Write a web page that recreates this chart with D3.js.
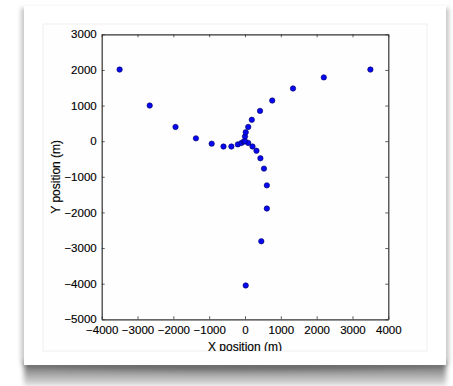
<!DOCTYPE html>
<html><head><meta charset="utf-8">
<script src="https://cdn.jsdelivr.net/npm/d3@7"></script>
<style>html,body{margin:0;padding:0;background:#fff;}svg{display:block;}</style>
</head><body>
<script>
// Data: station positions (m), three arms plus centre
const armWestX = [-3500, -2660, -1940, -1370, -930, -600, -380, -200, -100, -30];
const armWestY = [2010, 1000, 400, 80, -70, -150, -150, -90, -50, -10];
const armNEX = [0, 20, 90, 190, 420, 760, 1340, 2200, 3500];
const armNEY = [130, 250, 400, 600, 850, 1140, 1480, 1790, 2010];
const armSX = [90, 210, 320, 430, 530, 610, 610, 455, 20];
const armSY = [-50, -150, -270, -480, -770, -1240, -1890, -2810, -4050];
const centreX = [0];
const centreY = [0];
const xTicks = [-4000, -3000, -2000, -1000, 0, 1000, 2000, 3000, 4000];
const yTicks = [-5000, -4000, -3000, -2000, -1000, 0, 1000, 2000, 3000];

const W = 453, H = 386;
const svg = d3.select("body").append("svg").attr("width", W).attr("height", H);
const defs = svg.append("defs");

const blur = defs.append("filter").attr("id", "blur").attr("x", "-20%").attr("y", "-50%").attr("width", "140%").attr("height", "200%");
blur.append("feGaussianBlur").attr("stdDeviation", 2);
const blur2 = defs.append("filter").attr("id", "blur2").attr("x", "-20%").attr("y", "-100%").attr("width", "140%").attr("height", "300%");
blur2.append("feGaussianBlur").attr("stdDeviation", 2.5);

const vg = defs.append("linearGradient").attr("id", "vg").attr("x1", 0).attr("y1", 0).attr("x2", 0).attr("y2", 1);
vg.append("stop").attr("offset", 0).attr("stop-color", "#5a5a5a");
vg.append("stop").attr("offset", 0.3).attr("stop-color", "#8a8a8a");
vg.append("stop").attr("offset", 1).attr("stop-color", "#e4e4e4");

svg.append("rect").attr("width", W).attr("height", H).attr("fill", "#fff");
// side shadow of card
svg.append("rect").attr("x", 21).attr("y", 8).attr("width", 428).attr("height", 356)
  .attr("fill", "#c8c8c8").attr("filter", "url(#blur)");
// bottom curl shadow
svg.append("path")
  .attr("d", "M24,362 L446,362 L446,386 L24,386 Z")
  .attr("fill", "url(#vg)").attr("filter", "url(#blur2)");
svg.append("path")
  .attr("d", "M24,366 Q235,376 446,366 L446,362 L24,362 Z")
  .attr("fill", "#444").attr("opacity", 0.3).attr("filter", "url(#blur2)");
// card
svg.append("rect").attr("x", 24).attr("y", 6).attr("width", 422).attr("height", 359).attr("fill", "#fff");
// figure area
svg.append("rect").attr("x", 43).attr("y", 24).attr("width", 384).attr("height", 327)
  .attr("fill", "#fefefe").attr("stroke", "#f0f0f0").attr("stroke-width", 1);

defs.append("clipPath").attr("id", "fig").append("rect")
  .attr("x", 43).attr("y", 24).attr("width", 384).attr("height", 327);

const g = svg.append("g").attr("clip-path", "url(#fig)");

const x = d3.scaleLinear().domain([-4000, 4000]).range([101.7, 388.3]);
const y = d3.scaleLinear().domain([-5000, 3000]).range([319.3, 34.3]);
const x0 = x.range()[0], x1 = x.range()[1], y0 = y.range()[1], y1 = y.range()[0];

const font = "'Liberation Sans', Arial, Helvetica, sans-serif";
const axCol = "#333";

const fmt = d3.format("d");
const xAxis = g.append("g").attr("transform", `translate(0,${y1})`)
  .call(d3.axisBottom(x).tickValues(xTicks).tickSizeInner(-3).tickSizeOuter(0).tickPadding(6).tickFormat(fmt));
const xAxisTop = g.append("g").attr("transform", `translate(0,${y0})`)
  .call(d3.axisTop(x).tickValues(xTicks).tickSizeInner(-3).tickSizeOuter(0).tickFormat(""));
const yAxis = g.append("g").attr("transform", `translate(${x0},0)`)
  .call(d3.axisLeft(y).tickValues(yTicks).tickSizeInner(-3).tickSizeOuter(0).tickPadding(6).tickFormat(fmt));
const yAxisRight = g.append("g").attr("transform", `translate(${x1},0)`)
  .call(d3.axisRight(y).tickValues(yTicks).tickSizeInner(-3).tickSizeOuter(0).tickFormat(""));
[xAxis, xAxisTop, yAxis, yAxisRight].forEach(a => {
  a.select(".domain").attr("stroke", axCol).attr("stroke-width", 1.2);
  a.selectAll(".tick line").attr("stroke", axCol).attr("stroke-width", 0.8);
  a.selectAll("text").attr("font-family", font).attr("font-size", 11.5).attr("fill", "#000")
    .attr("stroke", "#000").attr("stroke-width", 0.15);
});
xAxis.selectAll("text").attr("dy", "0.71em").attr("y", 7);
yAxis.selectAll("text").attr("x", -5);

const pts = [];
[[armWestX, armWestY], [armNEX, armNEY], [armSX, armSY], [centreX, centreY]].forEach(([xs, ys]) => {
  xs.forEach((v, i) => pts.push([v, ys[i]]));
});
g.append("g").selectAll("circle").data(pts).join("circle")
  .attr("cx", d => x(d[0])).attr("cy", d => y(d[1])).attr("r", 2.7)
  .attr("fill", "#0808f0").attr("stroke", "#000060").attr("stroke-width", 0.6);

g.append("text").attr("x", (x0 + x1) / 2).attr("y", 350.5)
  .attr("text-anchor", "middle").attr("font-family", font).attr("font-size", 12).attr("fill", "#000")
  .attr("stroke", "#000").attr("stroke-width", 0.15)
  .text("X position (m)");
g.append("text").attr("transform", `translate(60,${(y0 + y1) / 2}) rotate(-90)`)
  .attr("text-anchor", "middle").attr("font-family", font).attr("font-size", 12).attr("fill", "#000")
  .attr("stroke", "#000").attr("stroke-width", 0.15)
  .text("Y position (m)");
</script>
</body></html>
